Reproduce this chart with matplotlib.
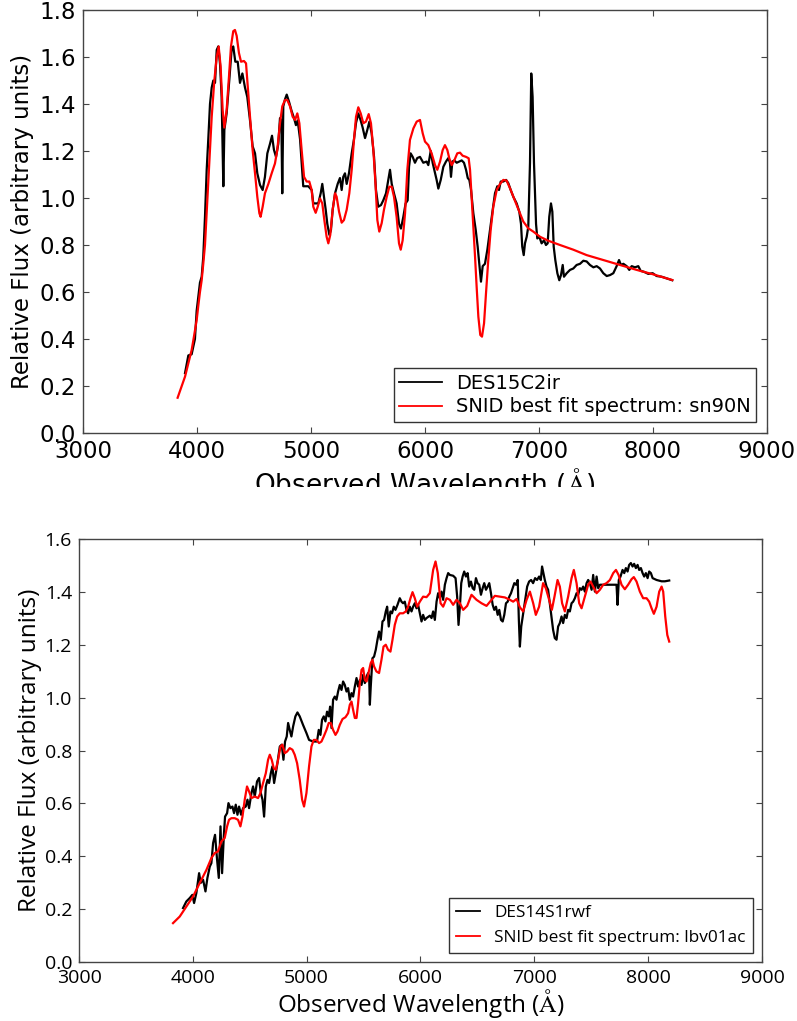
import matplotlib
matplotlib.use("Agg")
import matplotlib.pyplot as plt
from matplotlib.patches import Rectangle

plt.rcParams['mathtext.fontset'] = 'cm'

# ---------------- Top panel data (DES15C2ir vs sn90N) ----------------
top_obs_wave = [3895, 3924, 3953, 3982, 3997, 4026, 4041, 4055, 4070, 4085, 4100, 4114, 4129, 4143, 4158,
                4173, 4187, 4202, 4216, 4231, 4240, 4260, 4283, 4304, 4318, 4336, 4357, 4377, 4398, 4421,
                4441, 4465, 4488, 4509, 4529, 4553, 4576, 4596, 4617, 4640, 4658, 4675, 4693, 4713, 4728,
                4740, 4748, 4757, 4772, 4787, 4807, 4830, 4851, 4868, 4883, 4904, 4918, 4932, 4976, 5006,
                5020, 5064, 5085, 5099, 5114, 5129, 5143, 5161, 5175, 5190, 5211, 5234, 5254, 5269, 5283,
                5298, 5313, 5333, 5357, 5377, 5395, 5415, 5436, 5453, 5474, 5494, 5512, 5532, 5553, 5570,
                5590, 5614, 5634, 5658, 5678, 5693, 5708, 5728, 5751, 5772, 5789, 5810, 5830, 5848, 5860,
                5874, 5892, 5912, 5932, 5956, 5985, 6014, 6029, 6050, 6067, 6088, 6102, 6117, 6138, 6161,
                6184, 6205, 6219, 6228, 6240, 6257, 6278, 6301, 6322, 6342, 6360, 6375, 6389, 6404, 6424,
                6445, 6462, 6476, 6491, 6506, 6526, 6547, 6570, 6594, 6614, 6634, 6649, 6664, 6687, 6711,
                6731, 6752, 6775, 6804, 6827, 6842, 6853, 6866, 6877, 6892, 6906, 6921, 6932, 6944, 6956,
                6974, 6985, 7003, 7023, 7044, 7061, 7076, 7090, 7105, 7117, 7129, 7143, 7161, 7178, 7193,
                7208, 7219, 7243, 7272, 7301, 7330, 7360, 7389, 7418, 7447, 7477, 7506, 7535, 7564, 7594,
                7623, 7652, 7681, 7702, 7719, 7740, 7769, 7792, 7813, 7842, 7871, 7892, 7921, 7959, 7997,
                8032, 8076, 8120, 8169]
top_obs_flux = [0.255, 0.33, 0.335, 0.40, 0.52, 0.64, 0.665, 0.75, 0.92, 1.12, 1.26, 1.40, 1.47, 1.50, 1.49,
                1.63, 1.645, 1.57, 1.43, 1.05, 1.29, 1.36, 1.50, 1.635, 1.645, 1.58, 1.58, 1.49, 1.53, 1.47,
                1.43, 1.33, 1.22, 1.19, 1.105, 1.055, 1.034, 1.09, 1.19, 1.23, 1.265, 1.205, 1.175, 1.23, 1.34,
                1.33, 1.02, 1.39, 1.42, 1.44, 1.41, 1.37, 1.34, 1.31, 1.33, 1.25, 1.15, 1.05, 1.05, 1.034,
                0.977, 0.977, 1.02, 1.06, 1.005, 0.95, 0.89, 0.843, 0.864, 0.95, 1.02, 1.06, 1.085, 1.034, 1.09,
                1.105, 1.06, 1.105, 1.19, 1.25, 1.32, 1.36, 1.33, 1.30, 1.255, 1.29, 1.325, 1.275, 1.175, 1.034,
                0.963, 0.97, 0.99, 1.02, 1.077, 1.12, 1.06, 1.02, 0.977, 0.89, 0.87, 0.92, 0.977, 0.99, 1.133,
                1.19, 1.175, 1.15, 1.17, 1.175, 1.15, 1.155, 1.14, 1.20, 1.15, 1.105, 1.077, 1.04, 1.077, 1.133,
                1.155, 1.17, 1.15, 1.09, 1.155, 1.16, 1.15, 1.155, 1.16, 1.15, 1.12, 1.085, 1.077, 1.034, 0.935,
                0.864, 0.793, 0.72, 0.644, 0.71, 0.72, 0.78, 0.864, 0.95, 1.02, 1.05, 1.034, 1.07, 1.07, 1.077,
                1.063, 1.034, 1.005, 0.977, 0.942, 0.89, 0.793, 0.757, 0.807, 0.835, 0.878, 1.15, 1.53, 1.43, 1.15,
                0.89, 0.828, 0.835, 0.807, 0.82, 0.80, 0.807, 0.92, 0.977, 0.942, 0.793, 0.736, 0.68, 0.65, 0.672,
                0.715, 0.665, 0.68, 0.694, 0.70, 0.715, 0.72, 0.733, 0.73, 0.715, 0.705, 0.71, 0.70, 0.68, 0.668,
                0.672, 0.68, 0.71, 0.736, 0.715, 0.72, 0.71, 0.694, 0.71, 0.705, 0.71, 0.69, 0.686, 0.677, 0.68,
                0.668, 0.665, 0.658, 0.65]

top_fit_wave = [3830, 3895, 3953, 3968, 3997, 4011, 4026, 4041, 4055, 4070, 4100, 4129, 4152, 4173, 4190,
                4207, 4225, 4240, 4260, 4281, 4298, 4318, 4333, 4348, 4368, 4386, 4412, 4430, 4445, 4465,
                4488, 4509, 4529, 4547, 4558, 4576, 4596, 4626, 4655, 4684, 4704, 4728, 4748, 4772, 4792,
                4816, 4839, 4860, 4880, 4898, 4918, 4939, 4962, 4985, 5006, 5020, 5041, 5059, 5079, 5099,
                5117, 5137, 5152, 5169, 5190, 5211, 5225, 5246, 5269, 5289, 5313, 5336, 5357, 5377, 5395,
                5415, 5436, 5459, 5482, 5506, 5526, 5547, 5567, 5582, 5599, 5620, 5640, 5664, 5687, 5708,
                5728, 5751, 5772, 5787, 5804, 5825, 5845, 5868, 5898, 5927, 5956, 5980, 6000, 6029, 6058,
                6088, 6108, 6132, 6155, 6175, 6196, 6213, 6234, 6257, 6283, 6307, 6330, 6360, 6383, 6395,
                6409, 6424, 6439, 6453, 6468, 6485, 6500, 6518, 6535, 6555, 6576, 6599, 6629, 6658, 6687,
                6716, 6746, 6775, 6804, 6833, 6862, 6906, 6950, 7009, 7082, 7184, 7301, 7418, 7564, 7711,
                7857, 8003, 8169]
top_fit_flux = [0.15, 0.24, 0.353, 0.395, 0.48, 0.54, 0.60, 0.65, 0.72, 0.80, 1.077, 1.346, 1.50, 1.60, 1.645,
                1.56, 1.375, 1.30, 1.375, 1.52, 1.645, 1.71, 1.715, 1.69, 1.617, 1.58, 1.583, 1.573, 1.475, 1.346,
                1.204, 1.105, 1.005, 0.935, 0.92, 0.963, 1.02, 1.06, 1.105, 1.147, 1.204, 1.318, 1.39, 1.417, 1.417,
                1.39, 1.346, 1.332, 1.36, 1.318, 1.204, 1.09, 1.07, 1.07, 1.034, 0.963, 0.937, 0.963, 0.998, 0.977,
                0.906, 0.835, 0.807, 0.843, 0.95, 1.02, 1.005, 0.942, 0.895, 0.906, 0.95, 1.02, 1.12, 1.247, 1.346,
                1.386, 1.36, 1.318, 1.325, 1.357, 1.318, 1.204, 1.05, 0.906, 0.857, 0.893, 0.95, 1.005, 1.048, 1.048,
                1.005, 0.92, 0.807, 0.78, 0.82, 0.935, 1.12, 1.247, 1.296, 1.325, 1.332, 1.275, 1.24, 1.225, 1.19,
                1.14, 1.12, 1.155, 1.204, 1.225, 1.204, 1.169, 1.14, 1.16, 1.19, 1.193, 1.18, 1.175, 1.169, 1.12,
                1.005, 0.878, 0.75, 0.622, 0.495, 0.417, 0.41, 0.467, 0.594, 0.736, 0.864, 0.963, 1.034, 1.06, 1.077,
                1.074, 1.041, 1.005, 0.97, 0.935, 0.90, 0.871, 0.857, 0.835, 0.818, 0.80, 0.78, 0.757, 0.736, 0.715,
                0.694, 0.675, 0.651]

top_labels = ["DES15C2ir", "SNID best fit spectrum: sn90N"]

# ---------------- Bottom panel data (DES14S1rwf vs lbv01ac) ----------------
bot_obs_wave = [3914, 3943, 3973, 3996, 4011, 4031, 4055, 4069, 4090, 4111, 4128, 4149, 4163, 4178, 4195,
                4213, 4228, 4243, 4257, 4272, 4283, 4301, 4313, 4330, 4348, 4362, 4377, 4392, 4406, 4424,
                4441, 4465, 4480, 4494, 4515, 4529, 4544, 4564, 4582, 4597, 4612, 4626, 4641, 4656, 4670,
                4685, 4699, 4714, 4729, 4743, 4764, 4781, 4796, 4810, 4825, 4837, 4851, 4866, 4881, 4901,
                4919, 4939, 4968, 4998, 5021, 5056, 5091, 5106, 5121, 5135, 5150, 5165, 5179, 5194, 5206,
                5218, 5232, 5247, 5262, 5276, 5291, 5306, 5320, 5335, 5350, 5364, 5379, 5394, 5408, 5423,
                5438, 5452, 5467, 5482, 5496, 5511, 5526, 5540, 5549, 5555, 5563, 5578, 5592, 5607, 5622,
                5636, 5651, 5666, 5680, 5695, 5707, 5721, 5736, 5750, 5765, 5780, 5798, 5818, 5833, 5847,
                5862, 5877, 5891, 5906, 5921, 5935, 5950, 5965, 5979, 5994, 6009, 6023, 6038, 6053, 6082,
                6097, 6111, 6126, 6141, 6155, 6170, 6185, 6199, 6214, 6229, 6243, 6258, 6287, 6308, 6322,
                6334, 6346, 6358, 6370, 6384, 6399, 6414, 6428, 6443, 6458, 6472, 6487, 6501, 6516, 6531,
                6546, 6560, 6575, 6590, 6604, 6619, 6634, 6648, 6663, 6678, 6692, 6707, 6722, 6736, 6751,
                6766, 6780, 6795, 6810, 6824, 6839, 6854, 6864, 6873, 6885, 6902, 6919, 6937, 6954, 6972,
                6989, 7007, 7024, 7042, 7057, 7068, 7080, 7092, 7107, 7121, 7136, 7151, 7165, 7180, 7195,
                7209, 7224, 7239, 7253, 7268, 7283, 7297, 7312, 7327, 7341, 7356, 7371, 7385, 7400, 7415,
                7429, 7444, 7459, 7473, 7488, 7503, 7517, 7532, 7547, 7561, 7576, 7605, 7649, 7693, 7722,
                7731, 7742, 7757, 7775, 7790, 7804, 7819, 7833, 7848, 7863, 7877, 7892, 7907, 7921, 7936,
                7951, 7965, 7980, 7995, 8009, 8024, 8039, 8074, 8118, 8147, 8185]
bot_obs_flux = [0.204, 0.229, 0.242, 0.254, 0.223, 0.261, 0.336, 0.299, 0.311, 0.267, 0.318, 0.361, 0.374, 0.45, 0.481,
                0.387, 0.318, 0.513, 0.336, 0.475, 0.55, 0.563, 0.601, 0.582, 0.588, 0.563, 0.595, 0.557, 0.588, 0.557,
                0.582, 0.588, 0.614, 0.582, 0.639, 0.664, 0.626, 0.683, 0.696, 0.639, 0.614, 0.55, 0.664, 0.689, 0.677,
                0.714, 0.74, 0.677, 0.714, 0.752, 0.815, 0.822, 0.765, 0.834, 0.853, 0.904, 0.878, 0.853, 0.891, 0.929,
                0.944, 0.929, 0.897, 0.866, 0.84, 0.834, 0.834, 0.878, 0.859, 0.916, 0.929, 0.91, 0.947, 0.929, 0.966,
                0.885, 0.992, 1.004, 0.992, 1.023, 1.048, 1.029, 1.061, 1.048, 1.023, 1.036, 0.992, 1.017, 1.004, 1.042,
                1.074, 1.042, 1.067, 1.048, 1.086, 1.055, 1.08, 1.093, 1.08, 0.973, 1.042, 1.149, 1.155, 1.181, 1.219,
                1.25, 1.219, 1.288, 1.294, 1.326, 1.344, 1.269, 1.326, 1.319, 1.344, 1.332, 1.351, 1.376, 1.363, 1.357,
                1.363, 1.332, 1.319, 1.344, 1.326, 1.344, 1.357, 1.338, 1.351, 1.319, 1.288, 1.313, 1.294, 1.301, 1.31,
                1.301, 1.326, 1.294, 1.363, 1.395, 1.376, 1.401, 1.37, 1.427, 1.452, 1.471, 1.464, 1.461, 1.452, 1.382,
                1.275, 1.344, 1.433, 1.458, 1.477, 1.458, 1.471, 1.42, 1.439, 1.414, 1.408, 1.452, 1.433, 1.427, 1.389,
                1.414, 1.433, 1.408, 1.42, 1.433, 1.395, 1.351, 1.332, 1.344, 1.313, 1.332, 1.294, 1.288, 1.313, 1.357,
                1.363, 1.382, 1.395, 1.414, 1.433, 1.427, 1.445, 1.294, 1.193, 1.269, 1.319, 1.37, 1.42, 1.439, 1.445,
                1.433, 1.452, 1.445, 1.458, 1.445, 1.496, 1.471, 1.445, 1.42, 1.408, 1.357, 1.307, 1.256, 1.225, 1.219,
                1.269, 1.282, 1.307, 1.282, 1.313, 1.301, 1.332, 1.326, 1.357, 1.363, 1.376, 1.395, 1.389, 1.414, 1.408,
                1.42, 1.401, 1.433, 1.445, 1.433, 1.408, 1.464, 1.401, 1.458, 1.414, 1.427, 1.427, 1.427, 1.427, 1.427,
                1.351, 1.445, 1.458, 1.483, 1.471, 1.49, 1.477, 1.502, 1.509, 1.496, 1.506, 1.49, 1.502, 1.483, 1.49,
                1.471, 1.458, 1.471, 1.452, 1.477, 1.471, 1.452, 1.445, 1.44, 1.44, 1.443]

bot_fit_wave = [3826, 3885, 3943, 4002, 4061, 4120, 4163, 4192, 4221, 4251, 4280, 4301, 4318, 4339, 4368,
                4397, 4418, 4436, 4456, 4476, 4494, 4515, 4544, 4573, 4594, 4617, 4641, 4661, 4676, 4693,
                4711, 4729, 4749, 4770, 4787, 4808, 4828, 4851, 4875, 4895, 4916, 4939, 4960, 4977, 4998,
                5021, 5042, 5062, 5086, 5109, 5130, 5150, 5174, 5194, 5212, 5232, 5253, 5271, 5291, 5315,
                5341, 5364, 5379, 5394, 5408, 5423, 5438, 5452, 5467, 5482, 5496, 5511, 5526, 5546, 5563,
                5578, 5592, 5613, 5636, 5657, 5675, 5695, 5715, 5736, 5754, 5774, 5795, 5818, 5847, 5871,
                5891, 5912, 5930, 5950, 5971, 5994, 6023, 6053, 6082, 6111, 6132, 6152, 6176, 6199, 6229,
                6258, 6287, 6316, 6346, 6375, 6410, 6448, 6492, 6536, 6580, 6624, 6653, 6697, 6741, 6785,
                6814, 6844, 6873, 6902, 6932, 6961, 6990, 7013, 7042, 7077, 7101, 7130, 7154, 7177, 7204,
                7224, 7244, 7268, 7297, 7327, 7347, 7371, 7394, 7415, 7444, 7473, 7494, 7517, 7547, 7576,
                7605, 7634, 7664, 7693, 7717, 7740, 7766, 7795, 7824, 7854, 7874, 7898, 7927, 7956, 7986,
                8009, 8030, 8050, 8074, 8097, 8118, 8132, 8150, 8168, 8185]
bot_fit_flux = [0.147, 0.172, 0.21, 0.248, 0.299, 0.349, 0.393, 0.412, 0.418, 0.456, 0.469, 0.513, 0.538, 0.544, 0.544,
                0.538, 0.513, 0.55, 0.614, 0.664, 0.645, 0.62, 0.626, 0.62, 0.639, 0.677, 0.714, 0.765, 0.784, 0.765,
                0.733, 0.727, 0.765, 0.815, 0.822, 0.79, 0.796, 0.809, 0.803, 0.784, 0.752, 0.689, 0.614, 0.588, 0.639,
                0.74, 0.815, 0.84, 0.84, 0.828, 0.834, 0.853, 0.878, 0.904, 0.904, 0.878, 0.859, 0.872, 0.897, 0.919,
                0.926, 0.941, 0.973, 0.985, 0.954, 0.923, 0.923, 0.979, 1.055, 1.105, 1.112, 1.067, 1.061, 1.099, 1.131,
                1.143, 1.118, 1.099, 1.093, 1.143, 1.193, 1.2, 1.181, 1.174, 1.219, 1.275, 1.307, 1.319, 1.319, 1.326,
                1.344, 1.376, 1.399, 1.376, 1.344, 1.363, 1.382, 1.38, 1.395, 1.483, 1.515, 1.471, 1.357, 1.344, 1.376,
                1.37, 1.351, 1.37, 1.357, 1.332, 1.347, 1.389, 1.37, 1.357, 1.347, 1.37, 1.385, 1.382, 1.379, 1.37,
                1.363, 1.373, 1.342, 1.326, 1.37, 1.401, 1.357, 1.313, 1.344, 1.433, 1.414, 1.37, 1.332, 1.382, 1.445,
                1.42, 1.357, 1.326, 1.382, 1.452, 1.483, 1.433, 1.357, 1.338, 1.382, 1.427, 1.439, 1.42, 1.395, 1.408,
                1.427, 1.433, 1.445, 1.471, 1.483, 1.464, 1.427, 1.41, 1.427, 1.448, 1.456, 1.439, 1.401, 1.376, 1.376,
                1.363, 1.338, 1.317, 1.344, 1.401, 1.42, 1.401, 1.307, 1.237, 1.212]

bot_labels = ["DES14S1rwf", "SNID best fit spectrum: lbv01ac"]

x_ticks = [3000, 4000, 5000, 6000, 7000, 8000, 9000]
top_y_ticks = [0.0, 0.2, 0.4, 0.6, 0.8, 1.0, 1.2, 1.4, 1.6, 1.8]
bot_y_ticks = [0.0, 0.2, 0.4, 0.6, 0.8, 1.0, 1.2, 1.4, 1.6]

W, H = 797, 1021
fig = plt.figure(figsize=(W / 100, H / 100), dpi=100)
SPINE = '#444444'
XLABEL = r'Observed Wavelength ($\mathrm{\AA}$)'
YLABEL = 'Relative Flux (arbitrary units)'


def style_axes(ax, family, tick_size):
    for s in ax.spines.values():
        s.set_color(SPINE)
        s.set_linewidth(1.0)
    ax.tick_params(direction='in', top=True, right=True, length=4, width=0.8,
                   color=SPINE, labelsize=tick_size, pad=5)
    for lbl in ax.get_xticklabels() + ax.get_yticklabels():
        lbl.set_family(family)


# ---------- top ----------
ax1 = fig.add_axes([83 / W, 1 - 433 / H, (767 - 83) / W, (433 - 10) / H])
ax1.plot(top_obs_wave, top_obs_flux, color='k', lw=1.6, label=top_labels[0])
ax1.plot(top_fit_wave, top_fit_flux, color='#ff0000', lw=1.6, label=top_labels[1])
ax1.set_xlim(3000, 9000)
ax1.set_ylim(0, 1.8)
ax1.set_xticks(x_ticks)
ax1.set_yticks(top_y_ticks)
ax1.set_xticklabels([str(v) for v in x_ticks])
ax1.set_yticklabels([f"{v:.1f}" for v in top_y_ticks])
style_axes(ax1, 'DejaVu Sans', 16.5)
ax1.set_xlabel(XLABEL, fontsize=19, family='DejaVu Sans', labelpad=2)
ax1.set_ylabel(YLABEL, fontsize=16.5, family='DejaVu Sans', labelpad=4)
leg1 = ax1.legend(loc='lower right', prop={'family': 'DejaVu Sans', 'size': 14},
                  handlelength=2.2, handletextpad=0.7, labelspacing=0.25, borderpad=0.3,
                  fancybox=False, framealpha=1, borderaxespad=0.55)
leg1.get_frame().set_edgecolor('#333333')
leg1.get_frame().set_linewidth(1.0)
for l in leg1.get_lines():
    l.set_linewidth(1.3)

# mimic the cropped bottom edge of the top figure
fig.patches.append(Rectangle((0, 1 - 520 / H), 1, (520 - 487) / H, transform=fig.transFigure,
                             facecolor='white', edgecolor='none', zorder=10))

# ---------- bottom ----------
ax2 = fig.add_axes([79 / W, 1 - 962 / H, (762 - 79) / W, (962 - 539) / H])
ax2.plot(bot_obs_wave, bot_obs_flux, color='k', lw=1.6, label=bot_labels[0])
ax2.plot(bot_fit_wave, bot_fit_flux, color='#ff0000', lw=1.6, label=bot_labels[1])
ax2.set_xlim(3000, 9000)
ax2.set_ylim(0, 1.6)
ax2.set_xticks(x_ticks)
ax2.set_yticks(bot_y_ticks)
ax2.set_xticklabels([str(v) for v in x_ticks])
ax2.set_yticklabels([f"{v:.1f}" for v in bot_y_ticks])
style_axes(ax2, 'Open Sans', 14)
ax2.set_xlabel(XLABEL, fontsize=17.5, family='Open Sans', labelpad=0)
ax2.set_ylabel(YLABEL, fontsize=17.5, family='Open Sans', labelpad=2)
leg2 = ax2.legend(loc='lower right', prop={'family': 'Open Sans', 'size': 12.4},
                  handlelength=1.4, fancybox=False, framealpha=1, borderaxespad=0.55)
leg2.get_frame().set_edgecolor('#333333')
leg2.get_frame().set_linewidth(1.0)
for l in leg2.get_lines():
    l.set_linewidth(1.3)

fig.savefig('out.png', dpi=100)
